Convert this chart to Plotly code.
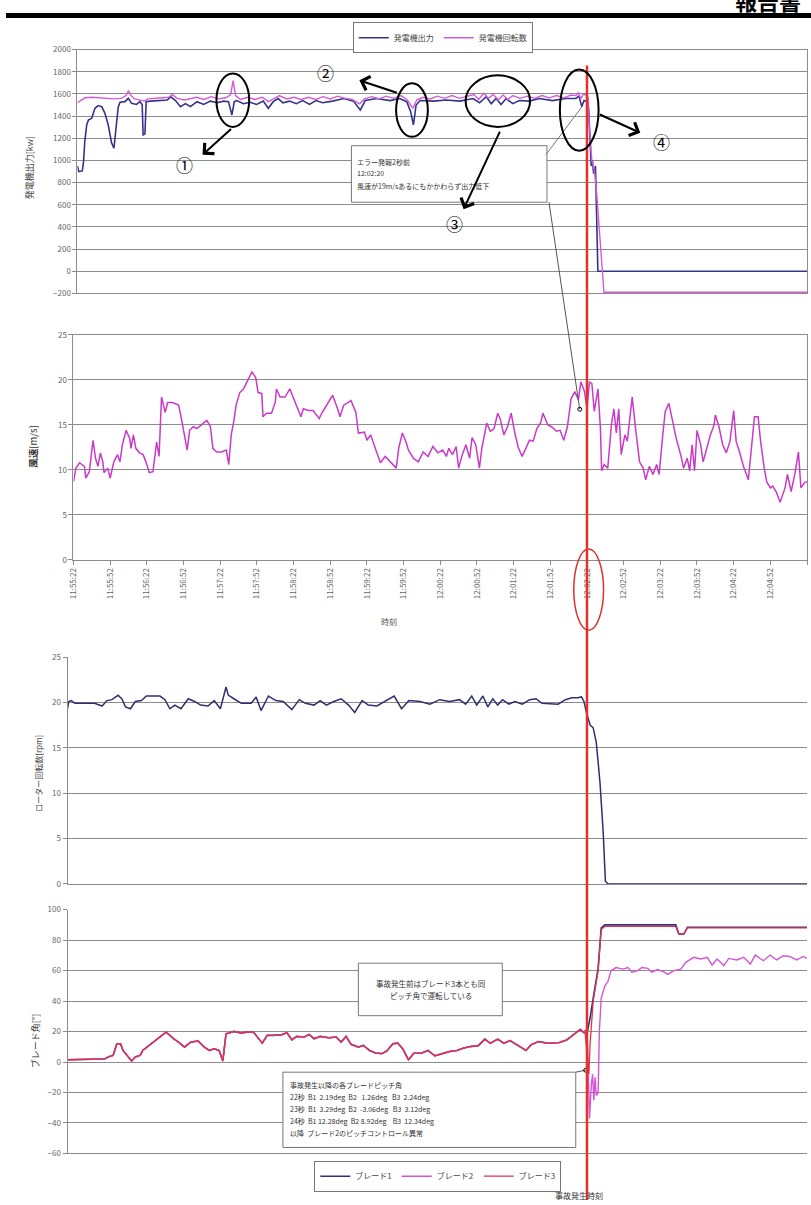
import plotly.graph_objects as go

W, H = 811, 1205
def fx(px): return px / W
def fy(py): return 1 - py / H

FONT = "Noto Sans CJK JP, Noto Sans, sans-serif"

# ---------------- data ----------------
time_ticks = [0, 30, 60, 90, 120, 150, 180, 210, 240, 270, 300, 330, 360, 390, 420,
              450, 480, 510, 540, 570, 600]  # seconds after 11:55:22
time_labels = ["11:55:22", "11:55:52", "11:56:22", "11:56:52", "11:57:22", "11:57:52",
               "11:58:22", "11:58:52", "11:59:22", "11:59:52", "12:00:22", "12:00:52",
               "12:01:22", "12:01:52", "12:02:22", "12:02:52", "12:03:22", "12:03:52",
               "12:04:22", "12:04:52", "12:05:22"]
event_t = 420

# generator output [kW]
out_t = [0, 1, 4, 5, 6, 7.6, 9, 11.7, 14.4, 17, 20, 22.6, 25.3, 28, 30, 31.6, 33.5, 35, 39, 41.8,
         44.5, 48.6, 51.3, 53.2, 54, 55.5, 56.5, 60, 65.7, 73.9, 76.6, 80.6, 84.7, 88.8, 92.9, 98.4,
         103.8, 109.3, 114.7, 120.2, 124.2, 127, 129, 131, 136.5, 142, 147.3, 152.8, 156.9, 161,
         165, 169, 174.5, 180, 185.3, 190.8, 196.2, 201.6, 209.8, 219, 227, 232.6, 236.7, 246, 257,
         265, 270.8, 274, 276.3, 278.5, 281.8, 292.7, 303.5, 314.4, 325.3, 330.7, 336.2, 340.3,
         344.3, 348.4, 352.5, 358, 363.4, 371.6, 379.8, 390.7, 401.6, 409.8, 412.5, 414.7, 416.6,
         419.3, 420.5, 421.5, 422.5, 423.5, 424.5, 426, 427, 428, 600]
out_v = [950, 900, 905, 990, 1170, 1320, 1365, 1380, 1470, 1495, 1485, 1425, 1320, 1160, 1110, 1260,
         1480, 1525, 1530, 1560, 1515, 1505, 1530, 1505, 1230, 1240, 1530, 1535, 1540, 1545, 1575,
         1540, 1485, 1512, 1485, 1530, 1505, 1535, 1520, 1535, 1530, 1410, 1530, 1540, 1512, 1525,
         1505, 1535, 1470, 1530, 1558, 1520, 1535, 1512, 1540, 1505, 1540, 1520, 1535, 1558, 1535,
         1455, 1540, 1558, 1540, 1558, 1530, 1440, 1320, 1500, 1540, 1535, 1545, 1535, 1558, 1520,
         1575, 1512, 1558, 1505, 1558, 1512, 1540, 1535, 1558, 1540, 1558, 1560, 1580, 1485, 1540,
         1530, 1450, 1200, 950, 1000, 880, 950, 500, 0, 0]

# generator speed (plotted on same axis)
rpm_t = [0, 3, 6, 12, 18, 24, 30, 36, 40, 42, 44, 47, 52, 55, 58, 64, 70, 75, 78, 82, 88, 92, 98,
         104, 110, 116, 122, 126, 128, 130, 134, 140, 146, 152, 157, 162, 166, 172, 178, 184, 190,
         196, 202, 208, 214, 220, 226, 232, 236, 242, 248, 254, 260, 266, 271, 274, 276, 279, 284,
         290, 296, 302, 308, 314, 320, 326, 330, 334, 338, 342, 346, 350, 354, 358, 364, 370, 376,
         382, 388, 394, 400, 406, 410, 412, 414, 416, 418, 420, 421, 422, 423, 425, 427, 429, 431,
         433, 600]
rpm_v = [1520, 1545, 1565, 1570, 1565, 1555, 1555, 1560, 1585, 1630, 1585, 1555, 1540, 1535, 1555,
         1560, 1565, 1570, 1595, 1560, 1545, 1555, 1570, 1550, 1575, 1555, 1565, 1595, 1720, 1585,
         1550, 1570, 1550, 1570, 1530, 1560, 1585, 1555, 1570, 1550, 1570, 1550, 1575, 1555, 1580,
         1560, 1550, 1510, 1555, 1575, 1555, 1580, 1560, 1585, 1550, 1500, 1470, 1545, 1570, 1555,
         1580, 1560, 1585, 1560, 1580, 1595, 1550, 1605, 1560, 1595, 1545, 1590, 1550, 1585, 1560,
         1580, 1560, 1585, 1565, 1585, 1565, 1590, 1585, 1610, 1555, 1600, 1590, 1570, 1300, 1150,
         1000, 920, 700, 400, 100, -190, -190]

# wind speed [m/s]
wind_t = [0, 2, 5, 9, 10, 13, 15, 16, 18, 20, 22, 24, 25, 28, 30, 32, 33, 36, 38, 40, 43, 46, 47,
          49, 51, 54, 57, 60, 62, 65, 68, 70, 72, 75, 77, 81, 86, 88, 91, 93, 95, 98, 101, 103, 106,
          109, 112, 114, 117, 121, 125, 127, 129, 131, 133, 136, 139, 142, 146, 149, 151, 154, 155,
          158, 162, 165, 166, 169, 173, 177, 180, 183, 186, 188, 192, 196, 201, 203, 207, 212, 216,
          218, 221, 227, 231, 233, 238, 240, 243, 246, 249, 251, 255, 260, 264, 266, 269, 272, 274,
          278, 282, 286, 290, 294, 298, 302, 305, 307, 310, 313, 315, 318, 321, 324, 326, 329, 332,
          334, 338, 341, 344, 347, 349, 352, 355, 358, 361, 364, 367, 370, 373, 376, 379, 382, 384,
          388, 391, 395, 398, 401, 404, 407, 410, 413, 415, 418, 420, 422, 424, 426, 429, 431, 432,
          434, 437, 440, 442, 444, 446, 448, 451, 453, 457, 460, 463, 466, 468, 471, 474, 477, 479,
          482, 484, 487, 490, 493, 497, 499, 502, 504, 506, 508, 510, 513, 515, 518, 521, 524, 525,
          528, 531, 534, 537, 540, 542, 545, 548, 552, 555, 557, 560, 562, 565, 567, 570, 572, 575,
          578, 582, 584, 587, 590, 593, 595, 598, 600]
wind_v = [8.7, 10.2, 10.8, 10.4, 9.1, 9.8, 12.2, 13.3, 11.3, 10.4, 11.9, 10.9, 9.7, 10.2, 9.1, 10.4,
          10.9, 11.7, 10.9, 12.8, 14.4, 13.5, 12.4, 13.9, 12.4, 11.9, 11.7, 10.6, 9.7, 9.8, 13.1, 11.5,
          18.1, 16.4, 17.5, 17.5, 17.2, 15.9, 13.9, 12.2, 14.4, 14.8, 14.6, 14.8, 15.2, 15.5, 14.8,
          12.4, 12.0, 12.0, 12.2, 10.6, 13.9, 15.3, 17.2, 18.6, 19.0, 19.8, 20.9, 20.3, 18.6, 18.5,
          15.9, 16.3, 16.3, 17.5, 19.0, 18.1, 18.1, 19.0, 17.9, 16.8, 15.9, 16.8, 16.6, 16.6, 15.7,
          16.3, 17.2, 18.3, 16.8, 15.9, 17.2, 17.7, 16.4, 14.1, 14.2, 13.3, 13.9, 12.8, 11.7, 10.8,
          11.5, 10.8, 10.2, 12.4, 14.1, 13.1, 12.2, 11.3, 10.9, 12.0, 11.5, 12.6, 11.9, 12.2, 11.5,
          12.4, 11.7, 12.6, 10.2, 11.7, 12.8, 11.3, 13.6, 12.8, 10.2, 12.4, 15.2, 14.3, 14.6, 16.3,
          15.7, 13.9, 14.8, 16.3, 14.1, 12.4, 11.5, 12.4, 13.3, 13.2, 14.6, 15.2, 16.3, 15.0, 14.8,
          14.3, 14.4, 13.3, 14.8, 17.9, 18.7, 17.8, 19.8, 18.7, 16.8, 19.8, 19.6, 16.5, 19.0, 14.6,
          9.9, 10.6, 10.2, 15.0, 16.8, 14.1, 16.8, 11.7, 13.9, 13.2, 18.1, 14.3, 10.9, 10.2, 8.9,
          10.4, 9.5, 10.6, 9.5, 13.9, 16.5, 17.4, 15.4, 13.5, 11.5, 10.2, 11.3, 9.9, 12.8, 9.9, 14.4,
          12.8, 10.9, 12.4, 13.9, 15.0, 16.1, 14.8, 12.8, 11.9, 13.2, 16.6, 13.2, 11.9, 10.4, 8.9,
          12.8, 15.9, 15.9, 13.2, 10.2, 8.7, 8.0, 8.2, 7.5, 6.4, 8.0, 9.5, 7.6, 9.5, 12.0, 8.0, 8.6,
          8.7]

# rotor speed [rpm]
rotor_t = [0, 1, 3, 6, 22, 28, 32, 36, 41, 44, 47, 51, 55, 60, 64, 70, 75, 79, 83, 87, 92, 98, 103,
           108, 114, 119, 124, 128.6, 130.4, 135, 141, 149, 153, 157, 163, 169, 175, 182, 188, 193,
           200, 205, 210, 216, 222, 228, 233, 239, 244, 251, 259, 265, 271, 277, 286, 294, 302, 310,
           318, 323, 328, 332, 337, 341, 345, 349, 353, 358, 363, 369, 375, 380, 385, 393, 398, 404,
           409, 414, 417, 419, 421, 424, 426.5, 429, 432, 434.6, 436.4, 438.6, 600]
rotor_v = [19.3, 20.1, 20.2, 19.9, 19.9, 19.6, 20.2, 20.3, 20.8, 20.4, 19.5, 19.3, 20.1, 20.2, 20.7,
           20.7, 20.7, 20.3, 19.3, 19.7, 19.3, 20.4, 20.1, 19.7, 19.6, 20.2, 19.3, 21.7, 20.8, 20.4,
           19.9, 19.9, 20.6, 19.1, 20.7, 20.2, 20.1, 19.2, 20.3, 19.9, 19.7, 20.2, 19.7, 20.1, 20.4,
           19.7, 18.9, 20.2, 19.7, 19.6, 20.2, 20.7, 19.3, 20.2, 20.1, 19.8, 20.3, 20.1, 20.3, 19.8,
           20.7, 19.7, 20.7, 19.5, 20.4, 19.7, 20.3, 19.8, 20.1, 19.8, 20.3, 20.4, 19.9, 19.8, 19.8,
           20.3, 20.5, 20.5, 20.6, 20.1, 18.9, 17.5, 17.2, 15.6, 11.2, 5.7, 0.3, 0, 0]

# blade pitch [deg] - identical for all three blades before the accident
pitch_pre_t = [0, 30, 33, 37, 40, 43, 45, 49, 52, 55, 59, 61, 68, 73, 78, 80, 83, 86, 90, 95, 100,
               106, 111, 115, 119, 123, 126, 128.6, 131, 135, 141, 146, 151, 155, 158, 162, 167,
               174, 178, 182, 186, 192, 196, 200, 205, 212, 218, 222, 226, 230, 236, 240, 245, 250,
               255, 259, 264, 268, 272, 276.6, 281, 287, 292.5, 298, 304, 310, 316, 321, 327, 333,
               338.6, 343, 349, 354, 359, 366, 372, 376, 382, 390, 399, 405, 412, 416, 419]
pitch_pre_v = [1.5, 2.0, 3.3, 4.4, 12.0, 12.0, 7.6, 3.3, 0.7, 3.3, 4.4, 7.6, 12.0, 15.3, 18.6, 19.7,
               17.5, 15.3, 13.1, 9.8, 13.1, 13.8, 9.8, 7.6, 8.7, 7.6, 0.7, 18.6, 19.0, 20.1, 19.0,
               19.7, 19.5, 15.3, 12.4, 17.5, 17.5, 18.0, 19.2, 14.6, 16.8, 16.4, 18.1, 15.3, 16.8,
               15.9, 16.4, 13.1, 16.8, 11.6, 9.8, 10.9, 7.6, 5.9, 5.5, 7.2, 12.0, 12.4, 8.7, 1.5,
               5.8, 5.8, 7.6, 4.1, 5.4, 6.9, 7.6, 9.1, 10.2, 10.6, 15.0, 12.3, 15.0, 12.3, 14.1,
               10.6, 7.6, 11.3, 13.4, 12.3, 12.8, 14.5, 18.8, 21.4, 19.3]

b1_post_t = [420, 422, 424, 426.5, 428.5, 430.5, 433, 436, 493.5, 496, 500, 503, 600]
b1_post_v = [20.5, 21, 29, 42, 52, 61.5, 88, 90, 90, 84, 84, 88.5, 88.5]
b2_post_t = [420, 422, 423.5, 425, 426, 427, 428, 429, 430.5, 431.5, 433, 436, 438.5, 441, 445,
             450.6, 454.6, 458, 462.7, 466, 470.8, 474, 478.8, 484, 487, 492, 497.6, 501.6, 508,
             513.7, 519, 523, 527, 532.5, 536.5, 543, 548.6, 554, 558, 564.7, 570, 575.4, 580.8,
             586, 591.5, 597, 600]
b2_post_v = [20.5, 10, -37, -15, -8, -25, -10, -22, -20, 20, 42, 50, 53, 60, 62, 61, 62, 59, 60, 62,
             61.5, 59, 60.7, 59, 57.5, 60, 61, 65.4, 68.7, 67.6, 68.7, 63.7, 67.6, 63.3, 68, 67,
             68.7, 64.3, 70.2, 66.5, 70.2, 67, 69.8, 69.3, 67, 69.3, 68]
b3_post_t = [420, 421, 422, 423, 424, 426.5, 430.5, 433, 436, 493.5, 496, 500, 503, 600]
b3_post_v = [19, 10, 2.2, -8, 12.3, 40, 60, 87, 89, 89, 84, 84, 88, 88]

# ---------------- styling ----------------
GRID = "#8c8c8c"
TICKF = dict(family=FONT, size=8, color="#666666")
C_OUT = "#34348a"
C_RPM = "#d65ad6"
C_WIND = "#c93ac9"
C_ROTOR = "#2e2e70"
C_B1 = "#303080"
C_B2 = "#d455d4"
C_B3 = "#e0324c"

fig = go.Figure()

fig.add_trace(go.Scatter(x=out_t, y=out_v, mode="lines", name="発電機出力",
                         line=dict(color=C_OUT, width=1.6), xaxis="x", yaxis="y", legend="legend"))
fig.add_trace(go.Scatter(x=rpm_t, y=rpm_v, mode="lines", name="発電機回転数",
                         line=dict(color=C_RPM, width=1.4), xaxis="x", yaxis="y", legend="legend"))
fig.add_trace(go.Scatter(x=wind_t, y=wind_v, mode="lines", name="風速", showlegend=False,
                         line=dict(color=C_WIND, width=1.5), xaxis="x2", yaxis="y2"))
fig.add_trace(go.Scatter(x=rotor_t, y=rotor_v, mode="lines", name="ローター回転数", showlegend=False,
                         line=dict(color=C_ROTOR, width=1.5), xaxis="x3", yaxis="y3"))
fig.add_trace(go.Scatter(x=pitch_pre_t + b1_post_t, y=pitch_pre_v + b1_post_v, mode="lines",
                         name="ブレード1", line=dict(color=C_B1, width=1.6),
                         xaxis="x4", yaxis="y4", legend="legend2"))
fig.add_trace(go.Scatter(x=pitch_pre_t + b2_post_t, y=pitch_pre_v + b2_post_v, mode="lines",
                         name="ブレード2", line=dict(color=C_B2, width=1.4),
                         xaxis="x4", yaxis="y4", legend="legend2"))
fig.add_trace(go.Scatter(x=pitch_pre_t + b3_post_t, y=pitch_pre_v + b3_post_v, mode="lines",
                         name="ブレード3", line=dict(color=C_B3, width=1.3),
                         xaxis="x4", yaxis="y4", legend="legend2"))

def xax(l, r, anchor, **kw):
    d = dict(domain=[fx(l), fx(r)], range=[0, 600], anchor=anchor, showgrid=False,
             zeroline=False, showline=True, linecolor=GRID, linewidth=1, tickfont=TICKF,
             fixedrange=True)
    d.update(kw)
    return d

def yax(t, b, anchor, rng, vals, **kw):
    d = dict(domain=[fy(b), fy(t)], range=rng, anchor=anchor, tickvals=vals, showgrid=True,
             gridcolor=GRID, gridwidth=1, zeroline=False, showline=True, linecolor=GRID,
             linewidth=1, ticks="outside", ticklen=4, tickcolor=GRID, tickfont=TICKF)
    d.update(kw)
    return d

fig.update_layout(
    width=W, height=H, autosize=False,
    margin=dict(l=0, r=0, t=0, b=0),
    paper_bgcolor="white", plot_bgcolor="white",
    font=dict(family=FONT, size=8, color="#333333"),
    xaxis=xax(72, 807, "y", showticklabels=False, mirror=True),
    yaxis=yax(44, 290, "x", [-200, 2000], list(range(-200, 2001, 200)), mirror=True),
    xaxis2=xax(68, 807, "y2", tickvals=time_ticks, ticktext=time_labels, tickangle=-90,
               ticks="outside", ticklen=4, tickcolor=GRID, mirror=True),
    yaxis2=yax(332, 559, "x2", [0, 25], [0, 5, 10, 15, 20, 25], mirror=True),
    xaxis3=xax(62, 807, "y3", showticklabels=False),
    yaxis3=yax(657, 886, "x3", [0, 25], [0, 5, 10, 15, 20, 25]),
    xaxis4=xax(62, 807, "y4", showticklabels=False),
    yaxis4=yax(912, 1158, "x4", [-60, 100], list(range(-60, 101, 20))),
    legend=dict(x=fx(440), y=fy(32), xanchor="center", yanchor="middle", orientation="h",
                bordercolor="#777777", borderwidth=1, bgcolor="white", itemwidth=30,
                font=dict(family=FONT, size=8, color="#444444"), tracegroupgap=0),
    legend2=dict(x=fx(435), y=fy(1181), xanchor="center", yanchor="middle", orientation="h",
                 bordercolor="#777777", borderwidth=1, bgcolor="white", itemwidth=30,
                 font=dict(family=FONT, size=8, color="#444444")),
)

shapes = []
def prect(x0, y0, x1, y1, **kw):
    s = dict(type="rect", xref="paper", yref="paper", x0=fx(x0), x1=fx(x1), y0=fy(y1), y1=fy(y0))
    s.update(kw)
    shapes.append(s)

def pline(x0, y0, x1, y1, color, width):
    shapes.append(dict(type="line", xref="paper", yref="paper", x0=fx(x0), y0=fy(y0),
                       x1=fx(x1), y1=fy(y1), line=dict(color=color, width=width), layer="above"))

def pell(x0, y0, x1, y1, color, width):
    shapes.append(dict(type="circle", xref="paper", yref="paper", x0=fx(x0), x1=fx(x1),
                       y0=fy(y1), y1=fy(y0), line=dict(color=color, width=width), layer="above"))

# header bar
prect(0, 7, 811, 12, fillcolor="black", line=dict(width=0), layer="above")

# callout boxes
prect(348, 141, 545, 198, fillcolor="white", line=dict(color="#777777", width=1), layer="above")
prect(355, 966, 500, 1019, fillcolor="white", line=dict(color="#777777", width=1), layer="above")
prect(279, 1076, 574, 1152, fillcolor="white", line=dict(color="#777777", width=1), layer="above")

# connector lines
pline(544, 150, 580, 102, "#777777", 1)
pline(547, 198, 578, 407, "#555555", 1)
pline(574, 1076, 584, 1074, "#555555", 1)
for (cx, cy) in [(578, 407), (584, 1074)]:
    pell(cx - 2, cy - 2, cx + 2, cy + 2, "black", 1)

# event line
shapes.append(dict(type="line", xref="x2", yref="paper", x0=event_t, x1=event_t,
                   y0=0, y1=fy(60), line=dict(color="#e3312c", width=2.5), layer="above"))

# highlight ellipses
pell(212, 68, 245, 122, "black", 2)
pell(393, 78, 425, 132, "black", 2)
pell(463, 70, 528, 122, "black", 2)
pell(558, 64, 597, 146, "black", 2)
pell(572, 548, 602, 630, "#d9342b", 1.5)

fig.update_layout(shapes=shapes)

ann = []
def text(x, y, s, size=8, color="#333333", xanchor="center", angle=0, bold=False):
    ann.append(dict(x=fx(x), y=fy(y), xref="paper", yref="paper", text=(f"<b>{s}</b>" if bold else s),
                    showarrow=False, xanchor=xanchor, yanchor="middle", textangle=angle,
                    font=dict(family=FONT, size=size, color=color)))

def arrow(hx, hy, tx, ty):
    ann.append(dict(x=fx(hx), y=fy(hy), xref="paper", yref="paper", ax=tx - hx, ay=ty - hy,
                    text="", showarrow=True, arrowhead=4, arrowsize=1.4, arrowwidth=2,
                    arrowcolor="black"))

# axis titles
text(24, 163, "発電機出力[kw]", size=9, color="#444444", angle=-90)
text(27, 445, "<b>風速</b>[m/s]", size=9.5, color="#333333", angle=-90)
text(33, 774, "ローター回転数[rpm]", size=8, color="#444444", angle=-90)
text(30, 1045, "ブレード角[°]", size=9, color="#333333", angle=-90)
text(386, 621, "時刻", size=8, color="#555555")

# box texts
text(352, 157, "エラー発報2秒前", size=7, xanchor="left")
text(352, 169, "12:02:20", size=7, xanchor="left")
text(352, 182, "風速が19m/sあるにもかかわらず出力低下", size=7, xanchor="left")
text(428, 987, "事故発生前はブレード3本とも同", size=7.5)
text(428, 999, "ピッチ角で運転している", size=7.5)
box_lines = ["事故発生以降の各ブレードピッチ角",
             "22秒  B1  2.19deg  B2   1.26deg   B3  2.24deg",
             "23秒  B1  3.29deg  B2  -3.06deg   B3  3.12deg",
             "24秒  B1 12.28deg  B2 8.92deg    B3  12.34deg",
             "以降  ブレード2のピッチコントロール異常"]
for i, s in enumerate(box_lines):
    text(284, 1089 + i * 12, s, size=7, xanchor="left")
text(577, 1200, "事故発生時刻", size=8, color="#333333")

# circled numbers and arrows
text(180, 160, "①", size=17, color="black")
text(322, 67, "②", size=17, color="black")
text(452, 219, "③", size=17, color="black")
text(660, 137, "④", size=17, color="black")
arrow(198, 150, 228, 123)
arrow(356, 75, 395, 88)
arrow(461, 205, 498, 126)
arrow(639, 128, 597, 109)

# header text (cut off at the page top, as in the source page)
text(768, -6, "報告書", size=22, color="black", bold=True)

fig.update_layout(annotations=ann)

fig.write_html("out.html", config={"displayModeBar": False},
               post_script="document.body.style.margin='0';document.body.style.overflow='hidden';")
